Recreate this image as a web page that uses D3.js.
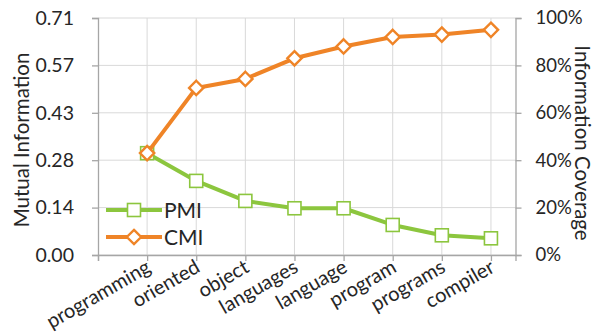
<!DOCTYPE html>
<html>
<head>
<meta charset="utf-8">
<script src="https://cdn.jsdelivr.net/npm/d3@7"></script>
<style>
  body { margin: 0; background: #fff; }
  text { font-family: Lato, "Open Sans", sans-serif; fill: #262626; }
</style>
</head>
<body>
<div id="chart"></div>
<script>
// chart data
let categories = ['programming', 'oriented', 'object', 'languages', 'language', 'program', 'programs', 'compiler']
let pmi = [0.305, 0.222, 0.162, 0.140, 0.140, 0.090, 0.059, 0.050]
let cmi = [43, 70.5, 74.3, 83, 88, 92, 93, 95]
let leftTicks = [0, 0.142, 0.284, 0.426, 0.568, 0.71]
let rightTicks = [0, 20, 40, 60, 80, 100]

let width = 603, height = 336
let plot = {left: 98, right: 515.5, top: 18, bottom: 255}
let green = '#8cc63e', orange = '#ef8427'

let svg = d3.select('#chart').append('svg').attr('width', width).attr('height', height)

let x = d3.scaleLinear().domain([-1, 7.5]).range([plot.left, plot.right])
let yL = d3.scaleLinear().domain([0, 0.71]).range([plot.bottom, plot.top])
let yR = d3.scaleLinear().domain([0, 100]).range([plot.bottom, plot.top])

// gridlines
svg.append('g').selectAll('line').data(leftTicks).enter().append('line')
    .attr('x1', plot.left).attr('x2', plot.right)
    .attr('y1', d => yL(d)).attr('y2', d => yL(d))
    .attr('stroke', '#d9d9d9').attr('stroke-width', 1)
svg.append('g').selectAll('line').data(categories).enter().append('line')
    .attr('x1', (d, i) => x(i)).attr('x2', (d, i) => x(i))
    .attr('y1', plot.top).attr('y2', plot.bottom)
    .attr('stroke', '#d9d9d9').attr('stroke-width', 1)

// axes
let leftAxis = d3.axisLeft(yL).tickValues(leftTicks).tickFormat(d3.format('.2f')).tickSize(6).tickPadding(18)
let rightAxis = d3.axisRight(yR).tickValues(rightTicks).tickFormat(d => d + '%').tickSize(6).tickPadding(14)
let bottomAxis = d3.axisBottom(x).tickValues(d3.range(-1, 8)).tickFormat('').tickSize(6)

let gL = svg.append('g').attr('transform', 'translate(' + plot.left + ',0)').call(leftAxis)
let gR = svg.append('g').attr('transform', 'translate(' + plot.right + ',0)').call(rightAxis)
let gB = svg.append('g').attr('transform', 'translate(0,' + plot.bottom + ')').call(bottomAxis)
;[gL, gR, gB].forEach(g => {
    g.select('.domain').attr('stroke', '#a6a6a6').attr('stroke-width', 1.3)
    g.selectAll('.tick line').attr('stroke', '#a6a6a6').attr('stroke-width', 1.3)
    g.selectAll('.tick text').style('font-size', '19.5px').attr('fill', '#262626')
})
gR.selectAll('.tick text').style('font-size', '18.5px')

// category labels
svg.append('g').selectAll('text').data(categories).enter().append('text')
    .attr('transform', (d, i) => 'translate(' + (x(i) + 5) + ',' + 271 + ') rotate(-30)')
    .attr('text-anchor', 'end')
    .style('font-size', '20px')
    .text(d => d)

// axis titles
svg.append('text').attr('transform', 'translate(29,140) rotate(-90)')
    .attr('text-anchor', 'middle').style('font-size', '20.5px').text('Mutual Information')
svg.append('text').attr('transform', 'translate(575,143) rotate(90)')
    .attr('text-anchor', 'middle').style('font-size', '20.5px').text('Information Coverage')

// lines
let pmiLine = d3.line().x((d, i) => x(i)).y(d => yL(d))
let cmiLine = d3.line().x((d, i) => x(i)).y(d => yR(d))

svg.append('path').datum(pmi).attr('d', pmiLine).attr('fill', 'none')
    .attr('stroke', green).attr('stroke-width', 4).attr('stroke-linejoin', 'round')
svg.append('g').selectAll('rect').data(pmi).enter().append('rect')
    .attr('x', (d, i) => x(i) - 6.5).attr('y', d => yL(d) - 6.5)
    .attr('width', 13).attr('height', 13)
    .attr('fill', '#fff').attr('stroke', green).attr('stroke-width', 1.6)

svg.append('path').datum(cmi).attr('d', cmiLine).attr('fill', 'none')
    .attr('stroke', orange).attr('stroke-width', 4).attr('stroke-linejoin', 'round')
let diamond = d3.symbol().type(d3.symbolDiamond2).size(130)
svg.append('g').selectAll('path').data(cmi).enter().append('path')
    .attr('d', diamond)
    .attr('transform', (d, i) => 'translate(' + x(i) + ',' + yR(d) + ')')
    .attr('fill', '#fff').attr('stroke', orange).attr('stroke-width', 2.4)

// legend
let legend = [{name: 'PMI', color: green, y: 210}, {name: 'CMI', color: orange, y: 237}]
let lg = svg.selectAll('.legend').data(legend).enter().append('g').attr('class', 'legend')
    .attr('transform', d => 'translate(106,' + d.y + ')')
lg.append('line').attr('x1', 0).attr('x2', 56).attr('y1', 0).attr('y2', 0)
    .attr('stroke', d => d.color).attr('stroke-width', 4)
lg.filter(d => d.name === 'PMI').append('rect').attr('x', 21.5).attr('y', -6.5).attr('width', 13).attr('height', 13)
    .attr('fill', '#fff').attr('stroke', green).attr('stroke-width', 1.6)
lg.filter(d => d.name === 'CMI').append('path').attr('d', diamond).attr('transform', 'translate(28,0)')
    .attr('fill', '#fff').attr('stroke', orange).attr('stroke-width', 2.4)
lg.append('text').attr('x', 58).attr('y', 7.5).style('font-size', '21px').text(d => d.name)
</script>
</body>
</html>
